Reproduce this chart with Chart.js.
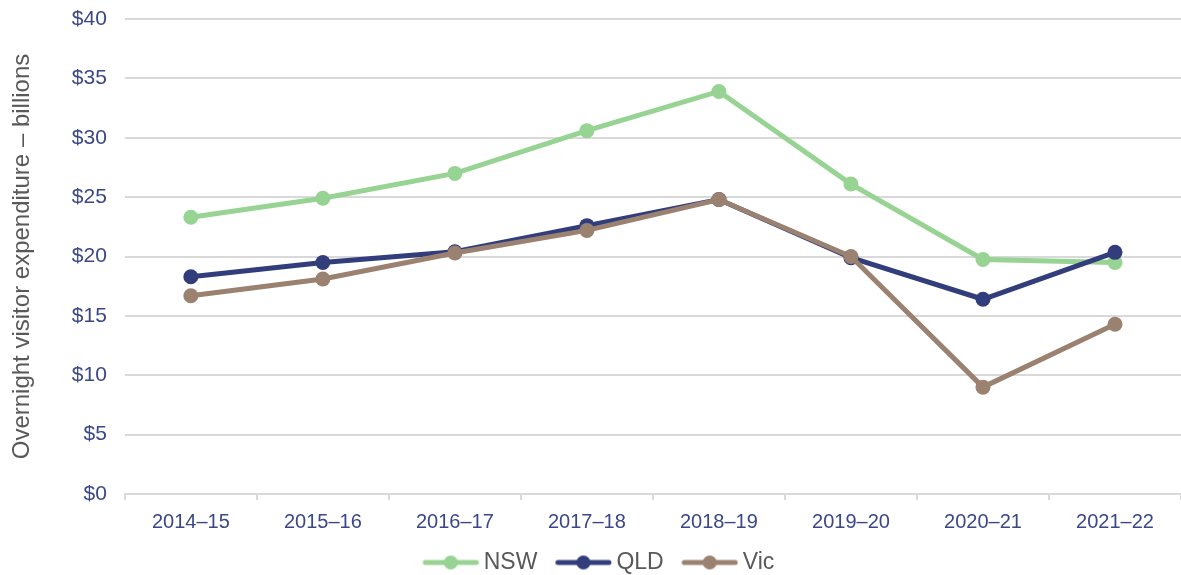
<!DOCTYPE html>
<html>
<head>
<meta charset="utf-8">
<script src="https://cdn.jsdelivr.net/npm/chart.js@4"></script>
<style>
  html, body { margin: 0; padding: 0; background: #fff; }
  #wrap { width: 1181px; height: 575px; }
</style>
</head>
<body>
<div id="wrap"><canvas id="chart" width="1181" height="575"></canvas></div>
<script>
const years = ["2014–15", "2015–16", "2016–17", "2017–18", "2018–19", "2019–20", "2020–21", "2021–22"];
const nsw = [23.3, 24.9, 27.0, 30.6, 33.9, 26.1, 19.75, 19.5];
const qld = [18.3, 19.5, 20.4, 22.6, 24.8, 19.9, 16.4, 20.35];
const vic = [16.7, 18.1, 20.3, 22.2, 24.8, 20.0, 9.0, 14.3];
const yTicks = [0, 5, 10, 15, 20, 25, 30, 35, 40];

const FONT = "'Liberation Sans', Arial, sans-serif";
const colors = { NSW: "#97d392", QLD: "#323e7c", Vic: "#9b8170" };

// legend swatch: line with a dot, placed inside a wider transparent image
// so the gaps around it match the original
const BOX_W = 65.5;
function swatch(color) {
  const c = document.createElement("canvas");
  c.width = 80; c.height = 18;
  const g = c.getContext("2d");
  const x0 = 23.75, x1 = 78.75;
  g.strokeStyle = color;
  g.lineWidth = 5;
  g.lineCap = "round";
  g.beginPath(); g.moveTo(x0 + 2, 9); g.lineTo(x1 - 2, 9); g.stroke();
  g.fillStyle = color;
  g.beginPath(); g.arc((x0 + x1) / 2, 9, 7, 0, Math.PI * 2); g.fill();
  return c;
}

// legend keeps 10px under itself; push it down to sit where the original has it
const legendNudge = {
  id: "legendNudge",
  afterLayout(chart) {
    chart.legend.top += 9;
    chart.legend.bottom += 9;
  }
};

function series(label, data) {
  return {
    label: label,
    data: data,
    borderColor: colors[label],
    backgroundColor: colors[label],
    borderWidth: 5,
    pointRadius: 7.5,
    pointHoverRadius: 7.5,
    pointBorderWidth: 0,
    tension: 0
  };
}

new Chart(document.getElementById("chart"), {
  type: "line",
  data: {
    labels: years,
    datasets: [series("Vic", vic), series("QLD", qld), series("NSW", nsw)]
  },
  plugins: [legendNudge],
  options: {
    responsive: false,
    animation: false,
    layout: { autoPadding: false, padding: { top: 19, right: 0, bottom: 0, left: 0 } },
    plugins: {
      tooltip: { enabled: false },
      legend: {
        position: "bottom",
        labels: {
          usePointStyle: true,
          pointStyleWidth: BOX_W,
          boxHeight: 18,
          padding: 2,
          color: "#595959",
          font: { family: FONT, size: 23 },
          generateLabels: chart => ["NSW", "QLD", "Vic"].map(name => {
            const idx = chart.data.datasets.findIndex(d => d.label === name);
            return {
              text: name,
              pointStyle: swatch(colors[name]),
              fillStyle: colors[name],
              strokeStyle: colors[name],
              lineWidth: 0,
              datasetIndex: idx,
              fontColor: "#595959"
            };
          })
        }
      }
    },
    scales: {
      x: {
        offset: true,
        afterFit: axis => {
          axis.paddingLeft = 0;
          axis.paddingRight = 0;
          axis.height -= 4;
        },
        grid: {
          offset: true,
          drawOnChartArea: false,
          drawTicks: true,
          tickLength: 6,
          color: "#d9d9d9",
          lineWidth: 2
        },
        border: { display: true, color: "#d9d9d9", width: 2 },
        ticks: {
          color: "#3b4787",
          font: { family: FONT, size: 20 },
          padding: 10,
          maxRotation: 0
        }
      },
      y: {
        min: 0,
        max: 40,
        afterBuildTicks: axis => { axis.ticks = yTicks.map(v => ({ value: v })); },
        afterFit: axis => { axis.paddingTop = 0; },
        grid: {
          color: "#d9d9d9",
          lineWidth: 2,
          drawTicks: true,
          tickLength: 18,
          tickColor: "rgba(0,0,0,0)"
        },
        border: { display: false },
        ticks: {
          color: "#3b4787",
          font: { family: FONT, size: 21 },
          padding: 0,
          callback: v => "$" + v
        },
        title: {
          display: true,
          text: "Overnight visitor expenditure – billions",
          color: "#595959",
          font: { family: FONT, size: 24 },
          padding: { top: 8, bottom: 35 }
        }
      }
    }
  }
});
</script>
</body>
</html>
